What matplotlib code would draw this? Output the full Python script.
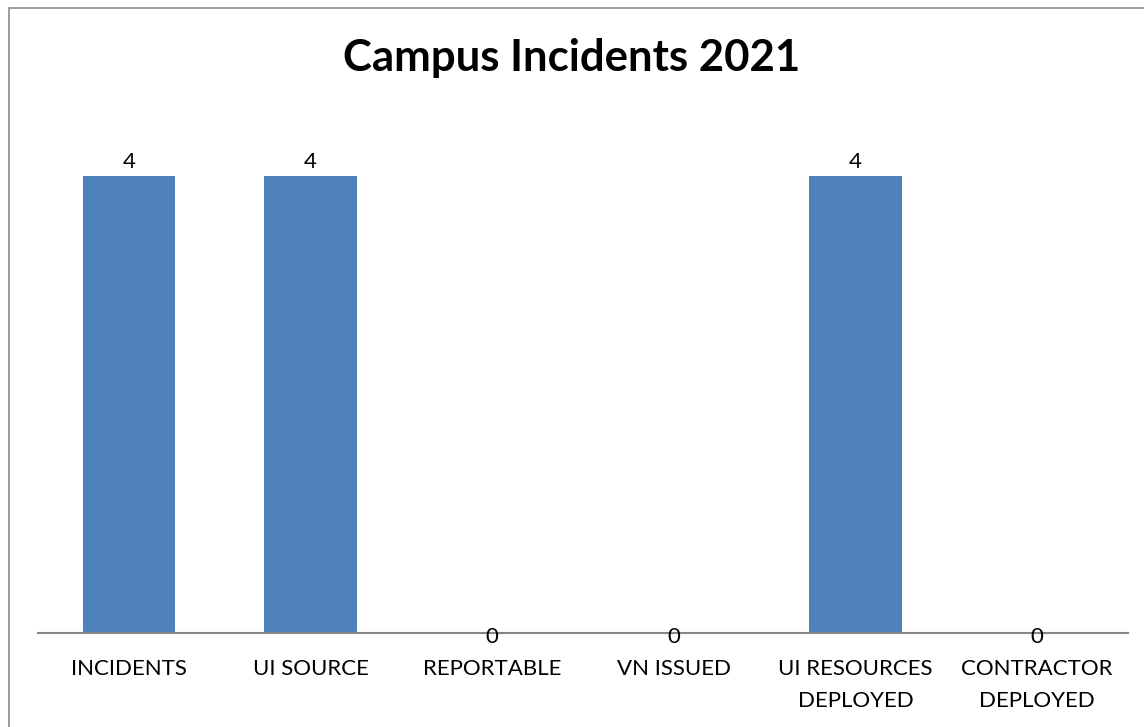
import matplotlib
matplotlib.use('Agg')
import matplotlib.pyplot as plt
from matplotlib.patches import Rectangle

plt.rcParams['font.family'] = ['Lato', 'DejaVu Sans']

# data
categories = ["INCIDENTS", "UI SOURCE", "REPORTABLE", "VN ISSUED",
              "UI RESOURCES\nDEPLOYED", "CONTRACTOR\nDEPLOYED"]
counts = [4, 4, 0, 0, 4, 0]
title = "Campus Incidents 2021"

W, H = 1144, 727
fig = plt.figure(figsize=(W / 100, H / 100), dpi=100, facecolor="white")

# chart border (gray frame, cut off at right / bottom)
fig.add_artist(Rectangle((9 / W, -0.05), 1.2, 1 - 8 / H + 0.05,
                         transform=fig.transFigure, fill=False,
                         edgecolor="#8c8c8c", lw=1.2))

ax = fig.add_axes([38 / W, 1 - 633 / H, (1128 - 38) / W, (633 - 119) / H])
x = range(len(categories))
bars = ax.bar(x, counts, width=0.51, color="#4F81BD")

for xi, v in zip(x, counts):
    # excel puts the zero labels just under the axis line
    off = 3 if v > 0 else -10
    ax.annotate(str(v), (xi, v), xytext=(0, off), textcoords="offset points",
                ha="center", va="bottom", fontsize=16)

ax.set_xlim(-0.5, len(categories) - 0.5)
ax.set_ylim(0, 4.5)
ax.set_xticks(list(x))
ax.set_xticklabels(categories, fontsize=16, linespacing=1.75)
ax.tick_params(axis="x", length=0, pad=19)
ax.set_yticks([])

for s in ["top", "right", "left"]:
    ax.spines[s].set_visible(False)
ax.spines["bottom"].set_color("#868686")
ax.spines["bottom"].set_linewidth(1.5)

fig.text(0.5, 1 - 58 / H, title, ha="center", va="center",
         fontsize=31.5, fontweight="bold")

plt.savefig("out.png", dpi=100)
plt.close()
